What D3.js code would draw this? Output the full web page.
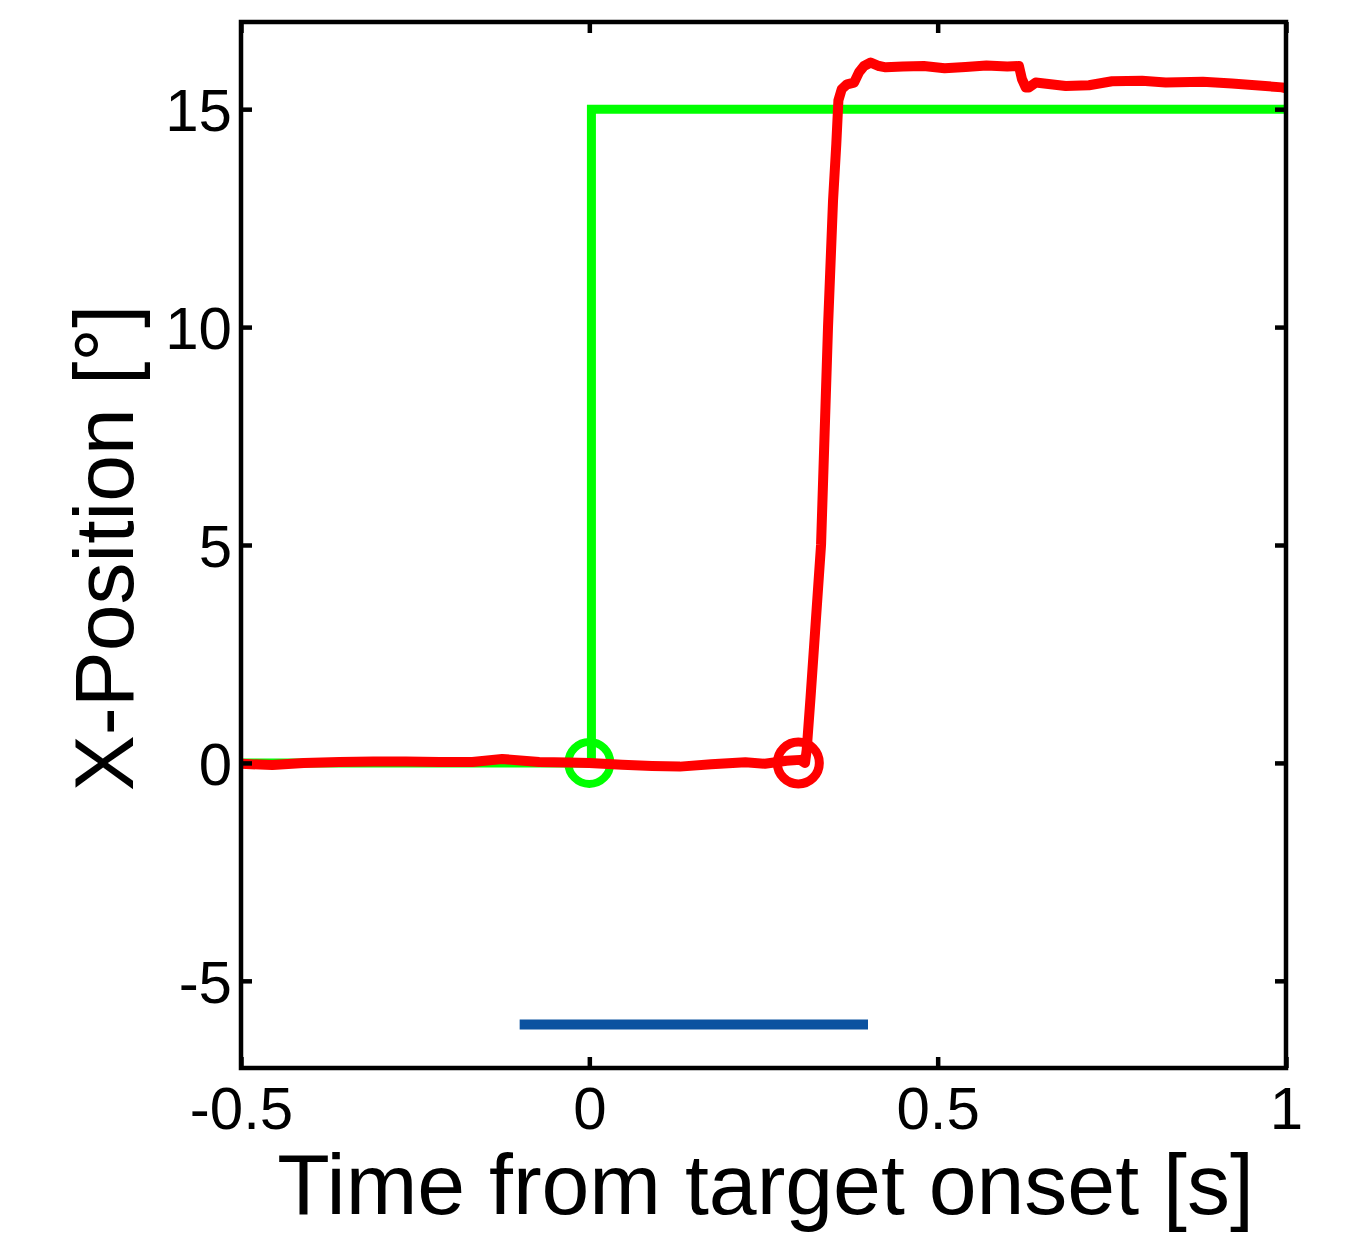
<!DOCTYPE html>
<html>
<head>
<meta charset="utf-8">
<script src="https://cdn.jsdelivr.net/npm/d3@7"></script>
<style>
  html, body { margin: 0; padding: 0; background: #fff; }
  svg { display: block; font-family: "Liberation Sans", Arial, sans-serif; }
</style>
</head>
<body>
<svg id="chart" width="1365" height="1233"></svg>
<script>
// ---- data ----
const xTicks = [-0.5, 0, 0.5, 1];
const xTickLabels = ["-0.5", "0", "0.5", "1"];
const yTicks = [-5, 0, 5, 10, 15];
const yTickLabels = ["-5", "0", "5", "10", "15"];

const targetTime = [-0.5, 0.003, 0.003, 1.0];
const targetPos  = [0, 0, 15, 15];

const eyeTime = [-0.5, -0.455, -0.41, -0.359, -0.31, -0.2635, -0.215, -0.168, -0.125, -0.072, -0.03, 0,
  0.047, 0.09, 0.13, 0.175, 0.224, 0.252, 0.283, 0.3025, 0.3096,
  0.312, 0.3175, 0.324, 0.3326, 0.3426, 0.3498, 0.3545, 0.3575, 0.3623, 0.3699, 0.380, 0.3872, 0.3943,
  0.4039, 0.4158, 0.4254, 0.45, 0.48, 0.51, 0.54, 0.57, 0.60, 0.6167, 0.621, 0.6264, 0.631, 0.6407,
  0.6838, 0.7172, 0.7503, 0.7933, 0.8273, 0.8807, 0.9225, 0.9943, 1.0];
const eyePos = [-0.02, -0.05, 0, 0.02, 0.03, 0.03, 0.02, 0.02, 0.09, 0.02, 0.01, 0,
  -0.04, -0.07, -0.085, -0.03, 0.015, -0.02, 0.05, 0.07, 0.0,
  0.3, 1.5, 3.0, 5, 10, 12.9, 14.2, 15.2, 15.46, 15.57, 15.61, 15.85, 15.99,
  16.07, 15.99, 15.96, 15.98, 15.99, 15.94, 15.97, 16.0, 15.98, 15.99, 15.69, 15.5, 15.5, 15.61,
  15.53, 15.55, 15.64, 15.65, 15.61, 15.63, 15.59, 15.50, 15.48];

const targetOnset = [0, 0];      // [time, pos]
const saccadeOnset = [0.3, 0];   // [time, pos]
const barTime = [-0.1, 0.4];
const barPos = -6;

const xDomain = [-0.5, 1];
const yDomain = [-7, 17];

// ---- layout ----
const svg = d3.select("#chart");
const L = 241, R = 1286, T = 22, B = 1068;
const x = d3.scaleLinear().domain(xDomain).range([L, R]);
const y = d3.scaleLinear().domain(yDomain).range([B, T]);

svg.append("defs").append("clipPath").attr("id", "clip")
  .append("rect").attr("x", L).attr("y", T).attr("width", R - L).attr("height", B - T);

const plot = svg.append("g").attr("clip-path", "url(#clip)");
const line = d3.line().x(d => x(d[0])).y(d => y(d[1]));

// target (green)
plot.append("path")
  .datum(targetTime.map((t, i) => [t, targetPos[i]]))
  .attr("d", line).attr("fill", "none").attr("stroke", "#00ff00")
  .attr("stroke-width", 9).attr("stroke-linejoin", "miter");

plot.append("circle")
  .attr("cx", x(targetOnset[0])).attr("cy", y(targetOnset[1])).attr("r", 21)
  .attr("fill", "none").attr("stroke", "#00ff00").attr("stroke-width", 8);

// eye (red)
plot.append("path")
  .datum(eyeTime.map((t, i) => [t, eyePos[i]]))
  .attr("d", line).attr("fill", "none").attr("stroke", "#ff0000")
  .attr("stroke-width", 10).attr("stroke-linejoin", "round").attr("stroke-linecap", "butt");

plot.append("circle")
  .attr("cx", x(saccadeOnset[0])).attr("cy", y(saccadeOnset[1])).attr("r", 21)
  .attr("fill", "none").attr("stroke", "#ff0000").attr("stroke-width", 9);

// blue bar
plot.append("line")
  .attr("x1", x(barTime[0])).attr("x2", x(barTime[1]))
  .attr("y1", y(barPos)).attr("y2", y(barPos))
  .attr("stroke", "#0b52a0").attr("stroke-width", 10);

// ---- axes ----
const tickLen = 11;
const axW = 4.5;

svg.append("rect").attr("x", L).attr("y", T).attr("width", R - L).attr("height", B - T)
  .attr("fill", "none").attr("stroke", "#000").attr("stroke-width", axW);

const xAxisB = d3.axisBottom(x).tickValues(xTicks).tickSize(-tickLen).tickPadding(18)
  .tickFormat((d, i) => xTickLabels[i]);
const gxb = svg.append("g").attr("transform", `translate(0,${B})`).call(xAxisB);
const xAxisT = d3.axisTop(x).tickValues(xTicks).tickSize(-tickLen).tickFormat("");
const gxt = svg.append("g").attr("transform", `translate(0,${T})`).call(xAxisT);

const yAxisL = d3.axisLeft(y).tickValues(yTicks).tickSize(-tickLen).tickPadding(9)
  .tickFormat((d, i) => yTickLabels[i]);
const gyl = svg.append("g").attr("transform", `translate(${L},0)`).call(yAxisL);
const yAxisR = d3.axisRight(y).tickValues(yTicks).tickSize(-tickLen).tickFormat("");
const gyr = svg.append("g").attr("transform", `translate(${R},0)`).call(yAxisR);

[gxb, gxt, gyl, gyr].forEach(g => {
  g.select(".domain").remove();
  g.selectAll(".tick line").attr("stroke", "#000").attr("stroke-width", axW);
  g.selectAll(".tick text").attr("fill", "#000")
    .style("font-family", '"Liberation Sans", Arial, sans-serif').style("font-size", "60px");
});
gxb.selectAll(".tick text").attr("dy", "0.71em");
gyl.selectAll(".tick text").attr("dy", "0.36em");

// axis titles
svg.append("text").attr("x", (L + R) / 2 + 2).attr("y", 1214)
  .attr("text-anchor", "middle").style("font-size", "86px").attr("fill", "#000")
  .text("Time from target onset [s]");

svg.append("text").attr("transform", `translate(133,${(T + B) / 2 + 3}) rotate(-90)`)
  .attr("text-anchor", "middle").style("font-size", "84px").attr("fill", "#000")
  .text("X-Position [°]");
</script>
</body>
</html>
